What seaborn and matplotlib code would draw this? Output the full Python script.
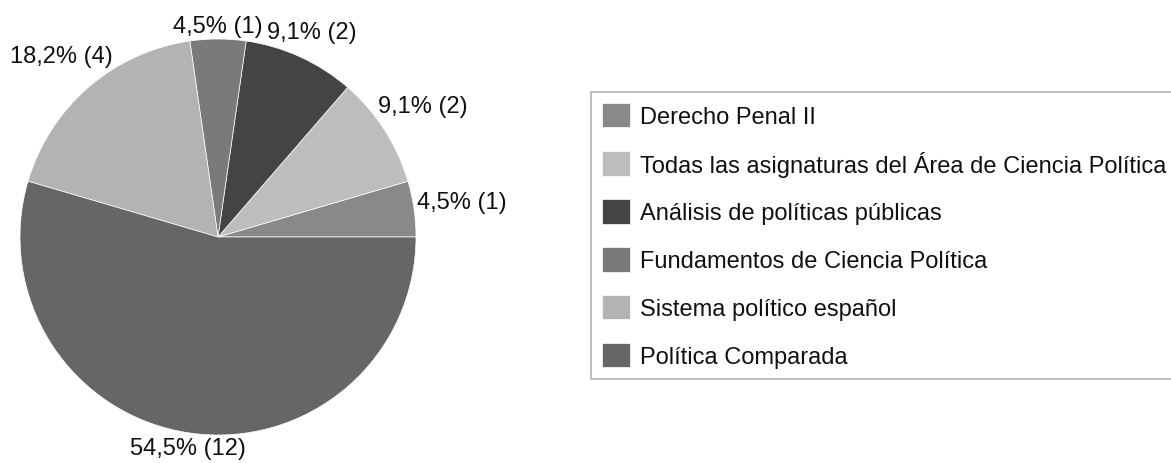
import numpy as np
import matplotlib
matplotlib.use("Agg")
import matplotlib.pyplot as plt
import seaborn as sns

# -------------------------------
# Data
# -------------------------------

categories = [
    "Derecho Penal II",
    "Todas las asignaturas del Área de Ciencia Política",
    "Análisis de políticas públicas",
    "Fundamentos de Ciencia Política",
    "Sistema político español",
    "Política Comparada",
]
counts = [1, 2, 2, 1, 4, 12]
colors = ["#898989", "#bdbdbd", "#444444", "#7a7a7a", "#b3b3b3", "#666666"]

# -------------------------------
# Style
# -------------------------------

sns.set_theme(style="white")
plt.rcParams["font.family"] = ["Liberation Sans", "DejaVu Sans"]
FS = 17.0

fig = plt.figure(figsize=(11.71, 4.64), dpi=100)
ax = fig.add_axes([20 / 1171, 28 / 464, 396 / 1171, 396 / 464])

wedges, _ = ax.pie(
    counts, colors=colors, startangle=0, counterclock=True, radius=1,
    wedgeprops=dict(edgecolor="white", linewidth=0.5),
)
ax.set_xlim(-1, 1)
ax.set_ylim(-1, 1)
ax.set_aspect("equal")
ax.axis("off")

# -------------------------------
# Labels just outside the pie
# -------------------------------

total = sum(counts)
labels = [f"{c / total * 100:.1f}".replace(".", ",") + f"% ({c})" for c in counts]

fig.canvas.draw()
renderer = fig.canvas.get_renderer()
px_per_unit = ax.transData.transform((1, 0))[0] - ax.transData.transform((0, 0))[0]
gap = 1.01

for w, lab in zip(wedges, labels):
    mid = np.deg2rad((w.theta1 + w.theta2) / 2)
    c, s = np.cos(mid), np.sin(mid)
    t = ax.text(0, 0, lab, ha="center", va="center", fontsize=FS, color="#111111")
    bb = t.get_window_extent(renderer)
    hw = bb.width / 2 / px_per_unit
    hh = bb.height / 2 / px_per_unit
    lo, hi = 0.0, 3.0
    for _ in range(50):
        m = (lo + hi) / 2
        dx = max(abs(m * c) - hw, 0)
        dy = max(abs(m * s) - hh, 0)
        if np.hypot(dx, dy) < gap:
            lo = m
        else:
            hi = m
    t.set_position((lo * c, lo * s))

# -------------------------------
# Legend
# -------------------------------

leg = fig.legend(
    wedges, categories, loc="upper left",
    bbox_to_anchor=(591 / 1171, 1 - 93 / 464), borderaxespad=0,
    fontsize=FS, frameon=True, fancybox=False, borderpad=0.45,
    handlelength=1.22, handleheight=1.22, handletextpad=0.42, labelspacing=0.96,
)
leg.get_frame().set_edgecolor("#a0a0a0")
leg.get_frame().set_linewidth(1.2)
for txt in leg.get_texts():
    txt.set_color("#111111")

fig.savefig("out.png", dpi=100)
plt.close(fig)
